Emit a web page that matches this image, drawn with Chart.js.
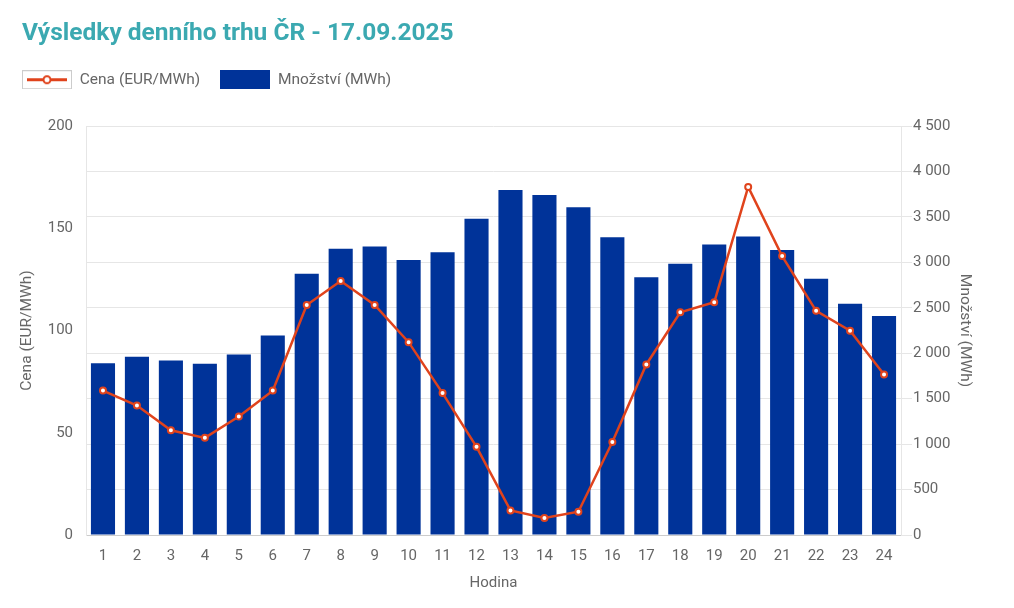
<!DOCTYPE html>
<html lang="cs">
<head>
<meta charset="UTF-8">
<title>Výsledky denního trhu ČR</title>
<script src="https://cdn.jsdelivr.net/npm/chart.js"></script>
<style>
  body { margin: 0; background: #fff; }
  #trh { display: block; }
</style>
</head>
<body>
<canvas id="trh" width="1014" height="608"></canvas>
<script>
  const nadpis = 'Výsledky denního trhu ČR - 17.09.2025';
  const hodiny = ['1', '2', '3', '4', '5', '6', '7', '8', '9', '10', '11', '12',
                  '13', '14', '15', '16', '17', '18', '19', '20', '21', '22', '23', '24'];
  // EUR/MWh
  const cena = [70.6, 63.3, 51.2, 47.5, 57.9, 70.6, 112.5, 124.2, 112.5, 94.3, 69.4, 43.1,
                12.0, 8.3, 11.4, 45.5, 83.4, 108.9, 113.8, 170.2, 136.4, 109.6, 99.9, 78.5];
  // MWh
  const mnozstvi = [1890, 1960, 1920, 1885, 1985, 2195, 2875, 3150, 3175, 3025, 3110, 3480,
                    3795, 3740, 3605, 3275, 2835, 2985, 3195, 3285, 3135, 2820, 2545, 2410];
  const cenaOsa = [0, 200, 50];        // min, max, krok
  const mnozstviOsa = [0, 4500, 500];

  const cervena = '#e0431c';
  const modra = '#003399';
  const seda = '#666';
  const mrizka = '#e6e6e6';

  // ikonky do legendy
  function ikonaCena() {
    const c = document.createElement('canvas');
    c.width = 50; c.height = 19;
    const g = c.getContext('2d');
    g.fillStyle = '#fff';
    g.fillRect(0, 0, 50, 19);
    g.strokeStyle = '#ccc';
    g.lineWidth = 1;
    g.strokeRect(0.5, 0.5, 49, 18);
    g.strokeStyle = cervena;
    g.lineWidth = 3;
    g.beginPath(); g.moveTo(5, 9.5); g.lineTo(45, 9.5); g.stroke();
    g.fillStyle = '#fff';
    g.lineWidth = 2;
    g.beginPath(); g.arc(25, 9.5, 3.5, 0, Math.PI * 2); g.fill(); g.stroke();
    return c;
  }
  function ikonaMnozstvi() {
    const c = document.createElement('canvas');
    c.width = 50; c.height = 19;
    const g = c.getContext('2d');
    g.fillStyle = modra;
    g.fillRect(0, 0, 50, 19);
    return c;
  }

  const nadpisPlugin = {
    id: 'nadpis',
    afterDraw(chart) {
      const ctx = chart.ctx;
      ctx.save();
      ctx.font = 'bold 24.5px Roboto';
      ctx.fillStyle = '#3ba9b1';
      ctx.textBaseline = 'middle';
      ctx.fillText(nadpis, 22, 34);
      ctx.restore();
    }
  };

  function mezery(v) {
    return String(v).replace(/\B(?=(\d{3})+(?!\d))/g, ' ');
  }

  Chart.defaults.font.family = 'Roboto, "Noto Sans", sans-serif';
  Chart.defaults.color = seda;

  new Chart(document.getElementById('trh'), {
    type: 'bar',
    data: {
      labels: hodiny,
      datasets: [{
        type: 'line',
        label: 'Cena (EUR/MWh)',
        data: cena,
        yAxisID: 'yCena',
        borderColor: cervena,
        borderWidth: 2.5,
        pointRadius: 3,
        pointBorderWidth: 2,
        pointBackgroundColor: '#fff',
        pointBorderColor: cervena,
        tension: 0,
        order: 0
      }, {
        label: 'Množství (MWh)',
        data: mnozstvi,
        yAxisID: 'yMnozstvi',
        backgroundColor: modra,
        barPercentage: 0.71,
        categoryPercentage: 1,
        order: 1
      }]
    },
    options: {
      responsive: false,
      animation: false,
      layout: { padding: { top: 52, left: 2, right: 0, bottom: 16 } },
      plugins: {
        title: { display: false },
        subtitle: {
          display: true, text: '', weight: 500,
          font: { size: 1, lineHeight: 1 },
          padding: { top: 27.5, bottom: 0 }
        },
        legend: {
          align: 'start',
          labels: {
            usePointStyle: true,
            pointStyleWidth: 50,
            padding: 20,
            font: { size: 15.5 },
            color: seda,
            generateLabels: () => [
              { text: 'Cena (EUR/MWh)', pointStyle: ikonaCena(), fontColor: seda, lineWidth: 0, hidden: false, datasetIndex: 0 },
              { text: 'Množství (MWh)', pointStyle: ikonaMnozstvi(), fontColor: seda, lineWidth: 0, hidden: false, datasetIndex: 1 }
            ]
          }
        },
        tooltip: { enabled: false }
      },
      scales: {
        x: {
          grid: { display: false, drawTicks: false },
          border: { color: '#ccc' },
          ticks: { padding: 12, font: { size: 15 }, color: seda },
          title: { display: true, text: 'Hodina', color: seda, font: { size: 15 }, padding: { top: 0, bottom: 0 } },
          afterFit(s) { s.height = 57; }
        },
        yCena: {
          position: 'left',
          min: cenaOsa[0], max: cenaOsa[1],
          ticks: { stepSize: cenaOsa[2], padding: 13, font: { size: 15 }, color: seda },
          grid: { display: false, drawTicks: false },
          border: { color: mrizka },
          title: { display: true, text: 'Cena (EUR/MWh)', color: seda, font: { size: 15.5 }, padding: { top: 16, bottom: 0 } },
          afterFit(s) { s.width = 84; }
        },
        yMnozstvi: {
          position: 'right',
          min: mnozstviOsa[0], max: mnozstviOsa[1],
          ticks: { stepSize: mnozstviOsa[2], padding: 1, font: { size: 15 }, color: seda, callback: v => mezery(v) },
          grid: { color: mrizka, tickLength: 11 },
          border: { color: mrizka },
          title: { display: true, text: 'Množství (MWh)', color: seda, font: { size: 15.5 }, padding: { top: 40, bottom: 0 } },
          afterFit(s) { s.width = 113; }
        }
      }
    },
    plugins: [nadpisPlugin]
  });
</script>
</body>
</html>
